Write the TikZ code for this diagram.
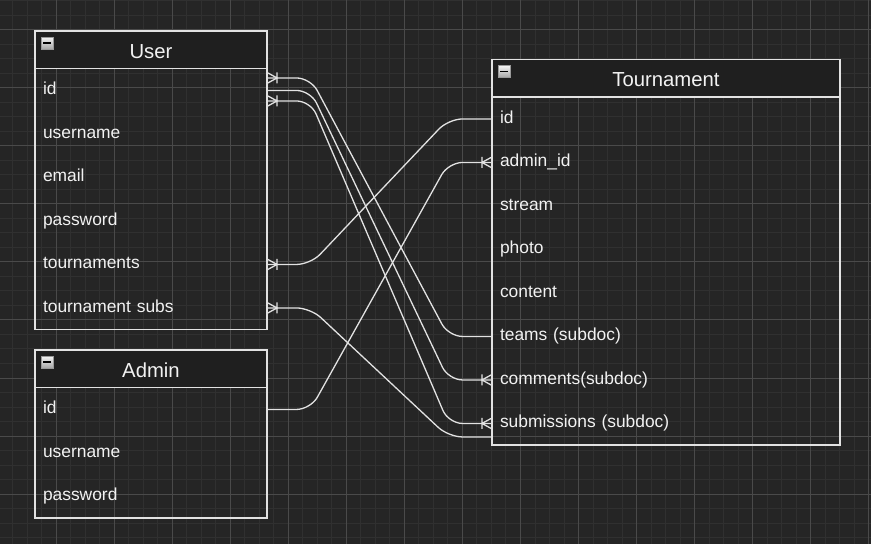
\documentclass[tikz,border=0pt]{standalone}
\usepackage{fontspec}
\setmainfont{Liberation Sans}
\usetikzlibrary{positioning,decorations.markings}

\definecolor{canvas}{HTML}{252525}
\definecolor{headfill}{HTML}{1F1F1F}
\definecolor{gridmin}{HTML}{303030}
\definecolor{gridmaj}{HTML}{4A4A4A}
\definecolor{strokec}{HTML}{E2E2E2}
\definecolor{inkc}{HTML}{F2F2F2}

\begin{document}
\begin{tikzpicture}[
        x=1pt, y=1pt,
        head/.style={fill=headfill, text=inkc, font=\fontsize{20.3}{24}\selectfont, minimum height=37.7pt,
            text height=19pt, text depth=2.4pt, inner sep=0pt, outer sep=0pt},
        field/.style={text=inkc, font=\fontsize{17.4}{21}\selectfont, minimum height=43.5pt, align=left,
            text height=12.5pt, text depth=3.5pt, inner xsep=8pt, inner ysep=0pt, outer sep=0pt},
        frame/.style={draw=strokec, line width=1.5pt},
        rel/.style={draw=strokec, line width=1.3pt, rounded corners=14pt},
        minus/.style={draw=gray!80, top color=white!92!gray, bottom color=gray!70, minimum size=12pt,
            inner sep=0pt, outer sep=0pt,
            path picture={\draw[black, line width=1.6pt] ([xshift=2pt]path picture bounding box.west)
                -- ([xshift=-2pt]path picture bounding box.east);}},
        crow/.style={draw=strokec, line width=1.3pt, sharp corners},
        many start/.style={postaction={decorate, decoration={markings, mark=at position 0 with
            {\draw[crow] (0,5.5pt) -- (10pt,0) -- (0,-5.5pt) (10pt,5.5pt) -- (10pt,-5.5pt);}}}},
        many end/.style={postaction={decorate, decoration={markings, mark=at position 1 with
            {\draw[crow] (0,5.5pt) -- (-10pt,0) -- (0,-5.5pt) (-10pt,5.5pt) -- (-10pt,-5.5pt);}}}}
    ]

    % Canvas and grid
    \useasboundingbox (0,0) rectangle (871,-544);
    \fill[canvas] (0,0) rectangle (871,-544);
    \clip (0,0) rectangle (871,-544);
    \draw[gridmin, line width=0.8pt, step=14.5125, shift={(12.46,-0.58)}] (-30,30) grid (900,-580);
    \draw[gridmaj, line width=0.8pt, step=58.05, shift={(56,-29.6)}] (-80,80) grid (900,-600);

    % Nodes
    \node[head, anchor=north west, minimum width=232pt] (user) at (35,-31) {User};
    \node[field, text width=216pt, below=0pt of user] (u-id) {id};
    \node[field, text width=216pt, below=0pt of u-id] (u-name) {username};
    \node[field, text width=216pt, below=0pt of u-name] (u-mail) {email};
    \node[field, text width=216pt, below=0pt of u-mail] (u-pass) {password};
    \node[field, text width=216pt, below=0pt of u-pass] (u-tour) {tournaments};
    \node[field, text width=216pt, below=0pt of u-tour] (u-subs) {tournament subs};

    \node[head, anchor=north west, minimum width=232pt] (admin) at (35,-350) {Admin};
    \node[field, text width=216pt, below=0pt of admin] (a-id) {id};
    \node[field, text width=216pt, below=0pt of a-id] (a-name) {username};
    \node[field, text width=216pt, below=0pt of a-name] (a-pass) {password};

    \node[head, anchor=north west, minimum width=348pt] (tour) at (492,-59.5) {Tournament};
    \node[field, text width=332pt, below=0pt of tour] (t-id) {id};
    \node[field, text width=332pt, below=0pt of t-id] (t-admin) {admin\_id};
    \node[field, text width=332pt, below=0pt of t-admin] (t-stream) {stream};
    \node[field, text width=332pt, below=0pt of t-stream] (t-photo) {photo};
    \node[field, text width=332pt, below=0pt of t-photo] (t-content) {content};
    \node[field, text width=332pt, below=0pt of t-content] (t-teams) {teams (subdoc)};
    \node[field, text width=332pt, below=0pt of t-teams] (t-comm) {comments(subdoc)};
    \node[field, text width=332pt, below=0pt of t-comm] (t-subm) {submissions (subdoc)};

    % Frames
    \draw[frame] (user.north west) rectangle (u-subs.south east);
    \draw[frame] (user.south west) -- (user.south east);
    \draw[frame] (admin.north west) rectangle (a-pass.south east);
    \draw[frame] (admin.south west) -- (admin.south east);
    \draw[frame] (tour.north west) rectangle (t-subm.south east);
    \draw[frame] (tour.south west) -- (tour.south east);

    \node[minus, below right=6pt and 6pt of user.north west] (user-min) {};
    \node[minus, below right=6pt and 6pt of admin.north west] (admin-min) {};
    \node[minus, below right=6pt and 6pt of tour.north west] (tour-min) {};

    % Edges
    \coordinate (uid-a) at ([yshift=12.5pt]u-id.east);
    \coordinate (uid-b) at (u-id.east);
    \coordinate (uid-c) at ([yshift=-10.5pt]u-id.east);
    \coordinate (ts-b) at ([yshift=-13.5pt]t-subm.west);

    \draw[rel, many start] (u-tour.east) -- ++(43.5,0) -- ([xshift=-43.5pt]t-id.west) -- (t-id.west);
    \draw[rel, many end] (a-id.east) -- ++(43.5,0) -- ([xshift=-43.5pt]t-admin.west) -- (t-admin.west);
    \draw[rel, many start] (u-subs.east) -- ++(43.5,0) -- ([xshift=-43.5pt]ts-b) -- (ts-b);
    \draw[rel, many start] (uid-a) -- ++(43.5,0) -- ([xshift=-43.5pt]t-teams.west) -- (t-teams.west);
    \draw[rel, many end] (uid-b) -- ++(43.5,0) -- ([xshift=-43.5pt]t-comm.west) -- (t-comm.west);
    \draw[rel, many start, many end] (uid-c) -- ++(43.5,0) -- ([xshift=-43.5pt]t-subm.west) -- (t-subm.west);

\end{tikzpicture}
\end{document}
